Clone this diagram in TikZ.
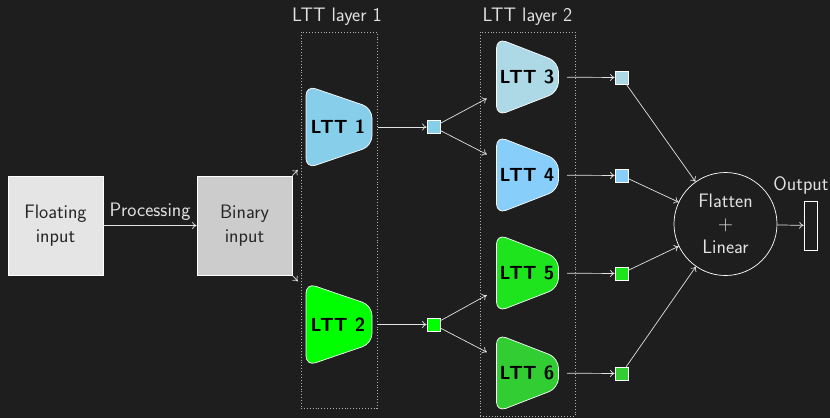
\documentclass[tikz,border=0pt]{standalone}
\usepackage{fontspec}
\usetikzlibrary{arrows.meta}
\definecolor{bg}{HTML}{1E1E1E}
\definecolor{txt}{HTML}{E2E2E2}
\definecolor{dotc}{HTML}{B0B0B0}
\definecolor{cA}{HTML}{87CEEB}
\definecolor{cB}{HTML}{00FF00}
\definecolor{cC}{HTML}{ADD8E6}
\definecolor{cD}{HTML}{87CEFA}
\definecolor{cE}{RGB}{30,228,30}
\definecolor{cF}{HTML}{32CD32}
\begin{document}
\begin{tikzpicture}[x=1pt,y=-1pt,
  every node/.style={font=\sffamily\fontsize{19.5}{24}\selectfont, text=txt},
  conn/.style={draw=txt, line width=0.7pt, -{To[length=4.5pt,width=7pt]}},
  inbox/.style={draw=white, line width=0.7pt, minimum width=95, minimum height=99, align=center, inner sep=0, text=black!85},
  lttnode/.style={minimum width=80, minimum height=86, inner sep=0, text=black, font=\sffamily\bfseries\fontsize{19}{22}\selectfont},
  trap/.style={draw=white, line width=0.7pt, rounded corners=10pt},
  sq/.style={draw=white, line width=0.7pt, minimum size=13, inner sep=0},
  layerbox/.style={draw=dotc, dotted, line width=0.9pt, inner sep=0},
]
\fill[bg] (0,0) rectangle (830,418);
\useasboundingbox (0,0) rectangle (830,418);

% layer boxes
\node[layerbox, minimum width=76, minimum height=376] (lay1) at (339,220) {};
\node[layerbox, minimum width=95, minimum height=384] (lay2) at (527.5,224) {};
\node (lab1) at (337,17) {LTT layer 1};
\node (lab2) at (527.5,17) {LTT layer 2};

% inputs
\node[inbox, fill=black!10] (fl) at (55.5,225.5) {Floating\\input};
\node[inbox, fill=black!20] (bin) at (244.5,225.5) {Binary\\input};

% layer 1 trapezoids
\foreach \x/\y/\c in {339/127/cA, 339/324.5/cB}{
  \draw[trap, fill=\c, shift={(\x,\y)}] (-33,-41.5) -- (33,-19) -- (33,19) -- (-33,41.5) -- cycle;
}
% layer 2 trapezoids
\foreach \x/\y/\c in {527.5/77/cC, 527.5/175/cD, 527.5/273/cE, 527.5/373/cF}{
  \draw[trap, fill=\c, shift={(\x,\y)}] (-31,-39) -- (31,-15) -- (31,15) -- (-31,39) -- cycle;
}
\node[lttnode] (l1) at (338,127) {LTT 1};
\node[lttnode] (l2) at (338,324.5) {LTT 2};
\node[lttnode, minimum height=80] (l3) at (527,77) {LTT 3};
\node[lttnode, minimum height=80] (l4) at (527,175) {LTT 4};
\node[lttnode, minimum height=80] (l5) at (527,273) {LTT 5};
\node[lttnode, minimum height=80] (l6) at (527,373) {LTT 6};

% squares
\node[sq, fill=cA] (s1) at (433.5,127) {};
\node[sq, fill=cB] (s2) at (433.5,324.5) {};
\node[sq, fill=cC] (s3) at (621.5,77.5) {};
\node[sq, fill=cD] (s4) at (621.5,175.5) {};
\node[sq, fill=cE] (s5) at (621.5,273.5) {};
\node[sq, fill=cF] (s6) at (621.5,373.5) {};

% flatten + linear
\node[circle, draw=white, line width=0.7pt, minimum size=103, inner sep=0, align=center] (circ) at (725.5,224) {Flatten\\[-1pt]$+$\\[-1pt]Linear};
\node[draw=white, line width=0.7pt, minimum width=13, minimum height=49, inner sep=0] (out) at (810.5,225.5) {};
\node (outlab) at (801,185) {Output};

% connectors
\draw[conn] (fl) -- node[above=1pt] {Processing} (bin);
\draw[conn] (bin.north east) -- (l1);
\draw[conn] (bin.south east) -- (l2);
\draw[conn] (l1) -- (s1);
\draw[conn] (l2) -- (s2);
\draw[conn] (s1) -- (l3);
\draw[conn] (s1) -- (l4);
\draw[conn] (s2) -- (l5);
\draw[conn] (s2) -- (l6);
\draw[conn] (l3) -- (s3);
\draw[conn] (l4) -- (s4);
\draw[conn] (l5) -- (s5);
\draw[conn] (l6) -- (s6);
\foreach \s in {s3,s4,s5,s6}{ \draw[conn] (\s) -- (circ); }
\draw[conn] (circ) -- (out);
\end{tikzpicture}
\end{document}
